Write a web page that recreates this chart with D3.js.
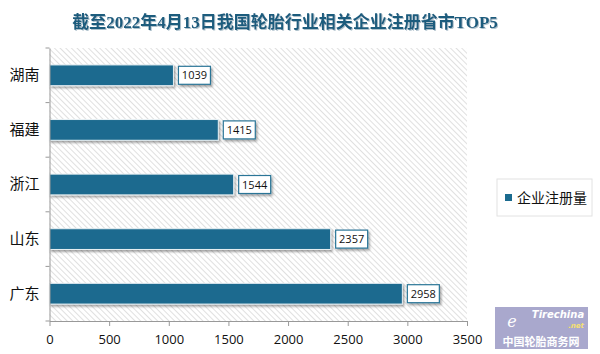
<!DOCTYPE html>
<html><head><meta charset="utf-8">
<script src="https://cdn.jsdelivr.net/npm/d3@7"></script>
<style>body{margin:0;background:#fff}svg{display:block}</style>
</head><body>
<svg id="c" width="600" height="354"></svg>
<script>
const categories = ["湖南","福建","浙江","山东","广东"];
const values = [1039,1415,1544,2357,2958];
const xTicks = [0,500,1000,1500,2000,2500,3000,3500];
const seriesName = "企业注册量";
const title = "截至2022年4月13日我国轮胎行业相关企业注册省市TOP5";

const svg = d3.select("#c");
const m = {l:49.5, r:467, t:48, b:321};
const x = d3.scaleLinear().domain([0,3500]).range([m.l,m.r]);
const y = d3.scaleBand().domain(categories).range([m.t,m.b]).paddingInner(0.62).paddingOuter(0.31);

const defs = svg.append("defs");
const pat = defs.append("pattern").attr("id","hatch").attr("patternUnits","userSpaceOnUse")
  .attr("width",4).attr("height",4).attr("patternTransform","rotate(-45)");
pat.append("rect").attr("width",4).attr("height",4).attr("fill","#fff");
pat.append("line").attr("x1",0).attr("y1",0).attr("x2",0).attr("y2",4).attr("stroke","#d9d9d9").attr("stroke-width",1.6);
const f = defs.append("filter").attr("id","sh").attr("x","-20%").attr("y","-40%").attr("width","140%").attr("height","200%");
f.append("feDropShadow").attr("dx",1.5).attr("dy",2).attr("stdDeviation",1.2).attr("flood-color","#000").attr("flood-opacity",0.35);
const ft = defs.append("filter").attr("id","tsh");
ft.append("feDropShadow").attr("dx",1).attr("dy",1).attr("stdDeviation",0.6).attr("flood-color","#7a9aaa").attr("flood-opacity",0.6);

svg.append("rect").attr("x",m.l).attr("y",m.t).attr("width",m.r-m.l).attr("height",m.b-m.t).attr("fill","url(#hatch)");

// title
svg.append("text").attr("x",285).attr("y",28).attr("text-anchor","middle")
  .attr("font-family","'Liberation Serif','Noto Sans CJK SC',serif").attr("font-weight","bold")
  .attr("font-size",17).attr("fill","#1d5b7d").attr("filter","url(#tsh)").text(title);

// bars
svg.selectAll(".bar").data(values).join("rect")
  .attr("x",x(0)).attr("y",(d,i)=>y(categories[i]))
  .attr("width",d=>x(d)-x(0)).attr("height",y.bandwidth())
  .attr("fill","#1b6b8f").attr("stroke","#e8f0f4").attr("stroke-width",1).attr("filter","url(#sh)");

// labels
const lg = svg.selectAll(".lbl").data(values).join("g")
  .attr("transform",(d,i)=>`translate(${x(d)+5},${y(categories[i])+y.bandwidth()/2})`);
lg.append("rect").attr("x",0).attr("y",-9).attr("width",32).attr("height",18)
  .attr("fill","#fff").attr("stroke","#2a7597").attr("stroke-width",1.2).attr("filter","url(#sh)");
lg.append("text").attr("x",16).attr("y",4).attr("text-anchor","middle")
  .attr("font-family","'Open Sans','DejaVu Sans',sans-serif").attr("font-size",11).attr("fill","#111")
  .text(d=>d);

// y axis
const ya = svg.append("g").attr("transform",`translate(${m.l},0)`)
  .call(d3.axisLeft(y).tickSize(0).tickPadding(10));
ya.select(".domain").attr("stroke","#999");
ya.selectAll("text").attr("font-family","'Noto Sans CJK SC',sans-serif").attr("font-size",15).attr("fill","#111");
// category separator ticks
const seps = d3.range(categories.length+1).map(i=>m.t+i*(m.b-m.t)/categories.length);
svg.selectAll(".sep").data(seps).join("line")
  .attr("x1",m.l-4).attr("x2",m.l).attr("y1",d=>d).attr("y2",d=>d).attr("stroke","#999");

// x axis
const xa = svg.append("g").attr("transform",`translate(0,${m.b})`)
  .call(d3.axisBottom(x).tickValues(xTicks).tickFormat(d3.format("d")).tickSize(5).tickPadding(9).tickSizeOuter(0));
xa.select(".domain").attr("stroke","#999");
xa.selectAll("line").attr("stroke","#999");
xa.selectAll("text").attr("font-family","'Open Sans','DejaVu Sans',sans-serif").attr("font-size",13).attr("fill","#111");

// legend
const leg = svg.append("g");
leg.append("rect").attr("x",497).attr("y",179).attr("width",95).attr("height",37)
  .attr("fill","#fff").attr("stroke","#e2e2e2");
leg.append("rect").attr("x",505).attr("y",194).attr("width",7).attr("height",7).attr("fill","#1b6b8f");
leg.append("text").attr("x",517).attr("y",203).attr("font-family","'Noto Sans CJK SC',sans-serif")
  .attr("font-size",14).attr("fill","#111").text(seriesName);

// watermark
const wm = svg.append("g");
wm.append("rect").attr("x",495).attr("y",307).attr("width",93).attr("height",42).attr("fill","#a9a8cd");
wm.append("text").attr("x",512).attr("y",327).attr("text-anchor","middle").attr("font-family","'DejaVu Serif',serif")
  .attr("font-style","italic").attr("font-size",16).attr("fill","#fff").text("e");
wm.append("text").attr("x",558).attr("y",318).attr("text-anchor","middle").attr("font-family","'DejaVu Sans',sans-serif")
  .attr("font-style","italic").attr("font-weight","bold").attr("font-size",10).attr("fill","#fff").text("Tirechina");
wm.append("text").attr("x",576).attr("y",328).attr("text-anchor","middle").attr("font-family","'DejaVu Sans',sans-serif")
  .attr("font-style","italic").attr("font-weight","bold").attr("font-size",7).attr("fill","#f5e070").text(".net");
wm.append("text").attr("x",541).attr("y",346).attr("text-anchor","middle").attr("font-family","'Noto Sans CJK SC',sans-serif")
  .attr("font-weight","bold").attr("font-size",11).attr("fill","#fff").text("中国轮胎商务网");
</script>
</body></html>
